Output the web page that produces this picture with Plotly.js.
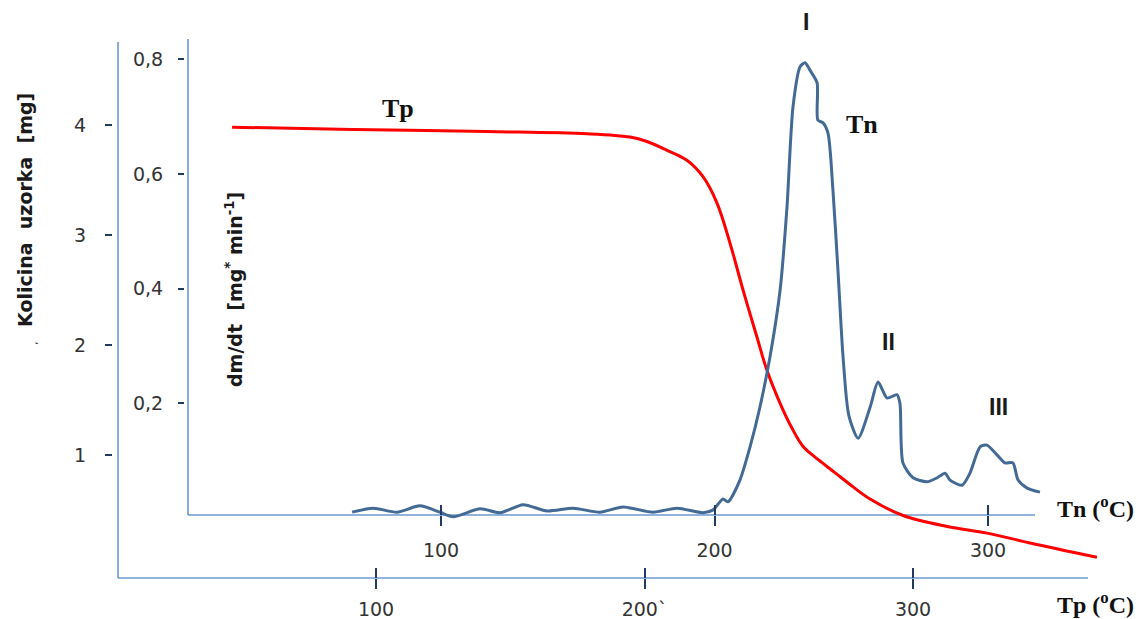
<!DOCTYPE html>
<html>
<head>
<meta charset="utf-8">
<script src="https://cdn.plot.ly/plotly-3.0.1.min.js"></script>
<style>html,body{margin:0;padding:0;background:#fff;}#chart{width:1146px;height:619px;}</style>
</head>
<body>
<div id="chart"></div>
<script>
// ---- data ----
// Tp curve (sample mass vs. Tp temperature, outer axes)
var tpTemp = [46.4, 91.4, 141.3, 178.6, 194.6, 200.9, 208.4, 215.8, 221.8, 227.0, 231.8, 236.7, 241.9, 245.6, 250.5, 254.9, 259.0, 264.6, 270.9, 277.7, 284.0, 296.3, 312.7, 327.6, 343.6, 368.5];
var tpMass = [3.98, 3.96, 3.94, 3.92, 3.89, 3.85, 3.77, 3.68, 3.53, 3.29, 2.93, 2.50, 2.07, 1.77, 1.47, 1.245, 1.08, 0.96, 0.84, 0.71, 0.60, 0.45, 0.35, 0.29, 0.20, 0.07];
// Tn curve (dm/dt vs. Tn temperature, inner axes)
var tnTemp = [67.5, 75.1, 83.9, 92.3, 99.6, 104.4, 114.3, 121.6, 130.0, 138.8, 148.3, 158.1, 166.5, 177.5, 186.3, 195.8, 199.5, 203.1, 204.9, 209.3, 213.0, 216.6, 220.3, 224.0, 226.5, 228.7, 231.3, 233.1, 234.9, 237.5, 237.8, 239.7, 241.5, 243.3, 245.2, 247.0, 249.1, 252.5, 256.9, 259.8, 263.1, 266.7, 267.8, 268.9, 272.6, 277.7, 281.4, 284.3, 286.1, 290.5, 293.4, 297.1, 299.6, 303.3, 306.2, 309.1, 311.0, 314.3, 319.0];
var tnRate = [0.010, 0.017, 0.010, 0.021, 0.010, 0.002, 0.016, 0.009, 0.023, 0.012, 0.017, 0.010, 0.019, 0.010, 0.017, 0.009, 0.014, 0.033, 0.028, 0.066, 0.124, 0.193, 0.281, 0.398, 0.542, 0.717, 0.787, 0.794, 0.781, 0.759, 0.694, 0.689, 0.671, 0.572, 0.427, 0.281, 0.179, 0.139, 0.193, 0.237, 0.209, 0.215, 0.200, 0.096, 0.070, 0.063, 0.070, 0.078, 0.066, 0.057, 0.078, 0.124, 0.127, 0.110, 0.096, 0.096, 0.066, 0.052, 0.045];
// tick labels
var tpTickVals = [100, 200, 300];
var tpTickText = ['100', '200`', '300'];
var tnTickVals = [100, 200, 300];
var tnTickText = ['100', '200', '300'];
var massTickVals = [1, 2, 3, 4];
var massTickText = ['1', '2', '3', '4'];
var rateTickVals = [0.2, 0.4, 0.6, 0.8];
var rateTickText = ['0,2', '0,4', '0,6', '0,8'];
// peak labels
var peakLabels = ['I', 'II', 'III'];

// ---- layout helpers (pixel -> paper) ----
var W = 1146, H = 619;
function px(x){ return x / W; }
function py(y){ return 1 - y / H; }
function tpAt(p){ return 100 + (p - 376) / 2.685; }
function massAt(p){ return 1 + (455 - p) / 110; }
function tnAt(p){ return 100 + (p - 441) / 2.735; }
function rateAt(p){ return 0.5 + (231.25 - p) / 573.3; }

var tickFont = {family: 'DejaVu Sans, Verdana, sans-serif', size: 19, color: '#333333'};
var tickCol = '#1f3b63';
var axisCol = '#6d98cf';
var serifFont = {family: 'Liberation Serif, Times New Roman, serif', size: 26, color: '#111111', weight: 'bold'};
var unitFont = {family: 'Liberation Serif, Times New Roman, serif', size: 24, color: '#111111', weight: 'bold'};
var romanFont = {family: 'Liberation Sans, Arial, sans-serif', size: 23, color: '#1a1a1a', weight: 'bold'};
var titleFont = {family: 'DejaVu Sans, Verdana, sans-serif', size: 19, color: '#1a1a1a', weight: 'bold'};

var traces = [
  {x: tpTemp, y: tpMass, xaxis: 'x', yaxis: 'y', mode: 'lines',
   line: {color: '#ff0000', width: 3, shape: 'spline', smoothing: 1}, hoverinfo: 'skip', showlegend: false},
  {x: tnTemp, y: tnRate, xaxis: 'x2', yaxis: 'y2', mode: 'lines',
   line: {color: '#436a95', width: 3, shape: 'spline', smoothing: 0.7}, hoverinfo: 'skip', showlegend: false},
  {x: [], y: [], xaxis: 'x3', yaxis: 'y', mode: 'lines', hoverinfo: 'skip', showlegend: false},
  {x: [], y: [], xaxis: 'x4', yaxis: 'y2', mode: 'lines', hoverinfo: 'skip', showlegend: false}
];

var baseX = {showgrid: false, zeroline: false, showline: false, tickwidth: 2, tickcolor: tickCol, tickfont: tickFont, fixedrange: true};

function ann(x, y, text, font, angle){
  var a = {xref: 'paper', yref: 'paper', x: px(x), y: py(y), text: text, showarrow: false,
           xanchor: 'center', yanchor: 'middle', font: font};
  if (angle !== undefined) a.textangle = angle;
  return a;
}

var layout = {
  width: W, height: H,
  margin: {l: 0, r: 0, t: 0, b: 0},
  paper_bgcolor: '#ffffff', plot_bgcolor: 'rgba(0,0,0,0)',
  showlegend: false,
  xaxis: Object.assign({}, baseX, {
    domain: [px(120), px(1100)], range: [tpAt(120), tpAt(1100)],
    anchor: 'free', position: py(578), ticks: 'outside', ticklen: 10,
    tickmode: 'array', tickvals: tpTickVals, ticktext: tpTickText, ticklabelstandoff: 4
  }),
  xaxis3: Object.assign({}, baseX, {
    overlaying: 'x', range: [tpAt(120), tpAt(1100)],
    anchor: 'free', position: py(578), ticks: 'inside', ticklen: 10, showticklabels: false,
    tickmode: 'array', tickvals: tpTickVals
  }),
  yaxis: Object.assign({}, baseX, {
    domain: [py(578), py(42)], range: [massAt(578), massAt(42)],
    anchor: 'free', position: px(112), ticks: 'outside', ticklen: 7,
    tickmode: 'array', tickvals: massTickVals, ticktext: massTickText, ticklabelstandoff: 15
  }),
  xaxis2: Object.assign({}, baseX, {
    domain: [px(188), px(1048)], range: [tnAt(188), tnAt(1048)],
    anchor: 'free', position: py(515), ticks: 'outside', ticklen: 10,
    tickmode: 'array', tickvals: tnTickVals, ticktext: tnTickText, ticklabelstandoff: 8
  }),
  xaxis4: Object.assign({}, baseX, {
    overlaying: 'x2', range: [tnAt(188), tnAt(1048)],
    anchor: 'free', position: py(515), ticks: 'inside', ticklen: 10, showticklabels: false,
    tickmode: 'array', tickvals: tnTickVals
  }),
  yaxis2: Object.assign({}, baseX, {
    domain: [py(528), py(35)], range: [rateAt(528), rateAt(35)],
    anchor: 'free', position: px(184), ticks: 'outside', ticklen: 6,
    tickmode: 'array', tickvals: rateTickVals, ticktext: rateTickText, ticklabelstandoff: 11
  }),
  shapes: [
    {type: 'line', xref: 'paper', yref: 'paper', x0: px(118), x1: px(118), y0: py(42), y1: py(578), line: {color: axisCol, width: 1.6}, layer: 'below'},
    {type: 'line', xref: 'paper', yref: 'paper', x0: px(118), x1: px(1088), y0: py(578), y1: py(578), line: {color: axisCol, width: 1.6}, layer: 'below'},
    {type: 'line', xref: 'paper', yref: 'paper', x0: px(188), x1: px(188), y0: py(39), y1: py(515), line: {color: axisCol, width: 1.6}, layer: 'below'},
    {type: 'line', xref: 'paper', yref: 'paper', x0: px(188), x1: px(1035), y0: py(515), y1: py(515), line: {color: axisCol, width: 1.6}, layer: 'below'}
  ],
  annotations: [
    ann(806, 22, peakLabels[0], romanFont),
    ann(888, 342, peakLabels[1], romanFont),
    ann(998, 407, peakLabels[2], romanFont),
    ann(862, 125, 'Tn', serifFont),
    ann(398, 108, 'Tp', serifFont),
    ann(1095, 507, 'Tn (<sup>o</sup>C)', unitFont),
    ann(1095, 603, 'Tp (<sup>o</sup>C)', unitFont),
    ann(25, 210, 'Kolicina  uzorka  [mg]', titleFont, -90),
    ann(33, 343, ',', {family: 'DejaVu Sans, sans-serif', size: 11, color: '#333333'}, -90),
    ann(234, 290, 'dm/dt  [mg<sup>*</sup> min<sup>-1</sup>]', titleFont, -90)
  ]
};

Plotly.newPlot('chart', traces, layout, {staticPlot: true, displayModeBar: false});
</script>
</body>
</html>
